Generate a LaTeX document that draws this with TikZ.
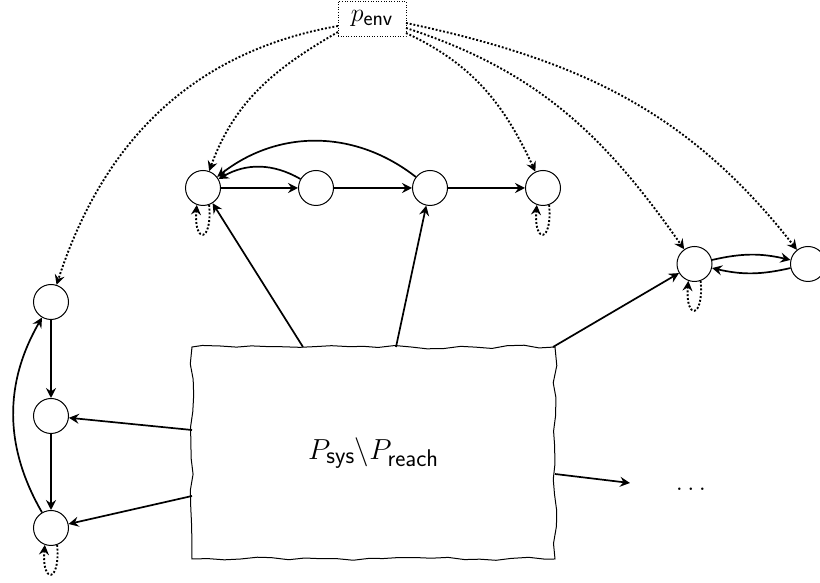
\documentclass[tikz,border=0pt]{standalone}
\usepackage{graphicx}
\usetikzlibrary{arrows.meta,decorations.pathmorphing}
\begin{document}
\begin{tikzpicture}[x=1pt,y=1pt,
  state/.style={circle,draw,line width=1pt,minimum size=35pt,inner sep=0pt},
  arr/.style={-{Stealth[length=10pt,width=10pt,inset=3.5pt]},line width=1.7pt},
  envarr/.style={arr,dash pattern=on 1.9pt off 1.9pt,line width=1.9pt},
  wavy/.style={draw,line width=1pt,decorate,decoration={random steps,segment length=16pt,amplitude=1.8pt}},
  envbox/.style={draw,dotted,line width=0.6pt,minimum width=68pt,minimum height=35pt,inner sep=0pt}]
\useasboundingbox (0,0) rectangle (820,583);
\pgfmathsetseed{7}
% environment node
\node[envbox] (penv) at (372,564.5) {\scalebox{1.04}{\fontsize{24.88}{28}\selectfont$p_{\mathsf{env}}$}};
% top cluster
\node[state] (A1) at (203,395) {};
\node[state] (A2) at (316,395) {};
\node[state] (A3) at (430,395) {};
\node[state] (A4) at (543,395) {};
% right cluster
\node[state] (B1) at (694.5,319) {};
\node[state] (B2) at (808,319) {};
% left cluster
\node[state] (C1) at (51,281) {};
\node[state] (C2) at (51,167) {};
\node[state] (C3) at (51,55) {};
% big box
\node[wavy,minimum width=363pt,minimum height=212pt] (box) at (373.5,130)
  {\scalebox{1.165}{\fontsize{24.88}{28}\selectfont$P_{\mathsf{sys}}\backslash P_{\mathsf{reach}}$}};
\node[anchor=base] (dots) at (691,92) {\scalebox{1.05}{\fontsize{24.88}{28}\selectfont$\ldots$}};
% attachment points on the box
\coordinate (t1) at (303,236);
\coordinate (t2) at (396,236);
\coordinate (t3) at (553,236);
\coordinate (l1) at (192,153);
\coordinate (l2) at (192,87);
\coordinate (r1) at (555,109);
\coordinate (r1end) at (630,100);
% penv exits
\coordinate (pw1) at (338,557);
\coordinate (pw2) at (338,551);
\coordinate (pe1) at (406,560);
\coordinate (pe2) at (406,555);
\coordinate (pe3) at (406,550);
% top cluster edges
\draw[arr] (A1) -- (A2);
\draw[arr] (A2) -- (A3);
\draw[arr] (A3) -- (A4);
\draw[arr] (A2) to[bend right=30] (A1);
\draw[arr] (A3) to[bend right=38] (A1);
% right cluster edges
\draw[arr] (B1) to[bend left=13] (B2);
\draw[arr] (B2) to[bend left=13] (B1);
% left cluster edges
\draw[arr] (C1) -- (C2);
\draw[arr] (C2) -- (C3);
\draw[arr] (C3) to[bend left=30] (C1);
% self loops
\foreach \n in {A1,A4,B1,C3}{
  \draw[envarr] (\n.-70) .. controls +(-85:39) and +(-95:39) .. (\n.-110);
}
% box edges
\draw[arr] (t1) -- (A1);
\draw[arr] (t2) -- (A3);
\draw[arr] (t3) -- (B1);
\draw[arr] (l1) -- (C2);
\draw[arr] (l2) -- (C3);
\draw[arr] (r1) -- (r1end);
% environment edges
\draw[envarr] (pw1) to[out=190,in=72] (C1);
\draw[envarr] (pw2) to[out=210,in=70] (A1);
\draw[envarr] (pe3) to[out=-25,in=115] (A4);
\draw[envarr] (pe2) to[out=-18,in=125] (B1);
\draw[envarr] (pe1) to[out=-12,in=128] (B2);
\end{tikzpicture}
\end{document}
